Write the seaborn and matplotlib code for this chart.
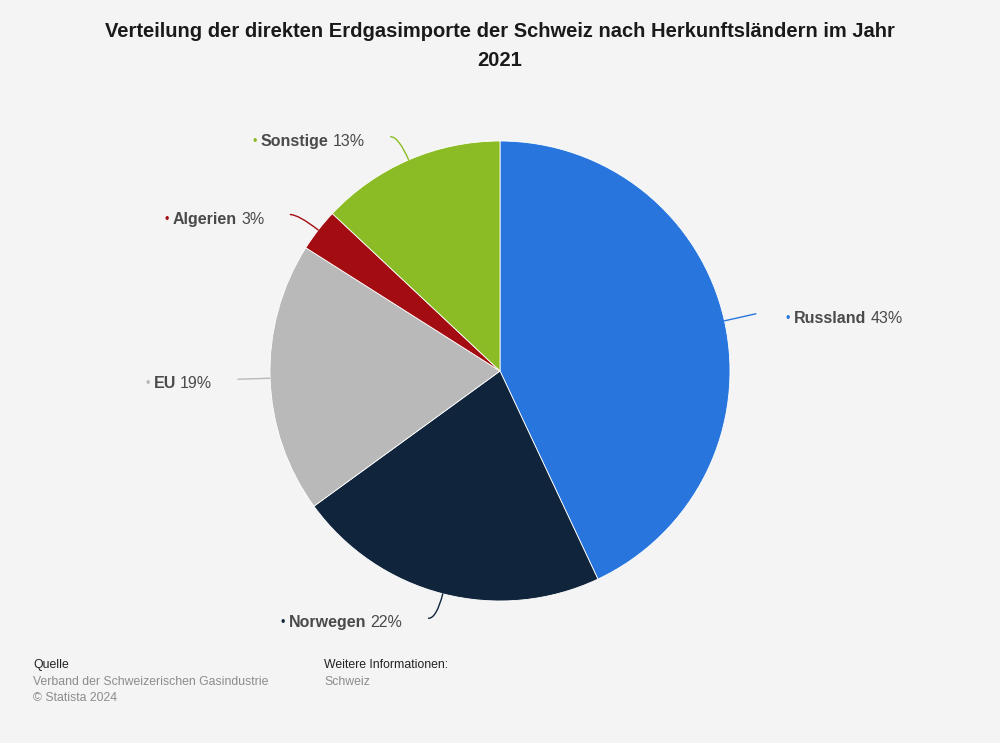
import numpy as np
import matplotlib
matplotlib.use("Agg")
import matplotlib.pyplot as plt
import seaborn as sns
from matplotlib.transforms import IdentityTransform

# data
countries = ["Russland", "Norwegen", "EU", "Algerien", "Sonstige"]
shares = [43, 22, 19, 3, 13]
colors = ["#2876dd", "#10253c", "#b9b9b9", "#a30c10", "#8bbc26"]

TITLE = "Verteilung der direkten Erdgasimporte der Schweiz nach Herkunftsländern im Jahr\n2021"
BG = "#f4f4f4"
TXT = "#4a4a4a"

sns.set_theme(style="white")
plt.rcParams["font.family"] = ["Liberation Sans", "DejaVu Sans"]

fig = plt.figure(figsize=(10, 7.43), dpi=100, facecolor=BG)
W, H = 1000, 743
cx, cy, r = 500, 371, 230
ax = fig.add_axes([(cx - r) / W, 1 - (cy + r) / H, 2 * r / W, 2 * r / H])
ax.set_facecolor(BG)

wedges, _ = ax.pie(shares, colors=colors, startangle=90, counterclock=False,
                   wedgeprops=dict(edgecolor="white", linewidth=0.6))
ax.set_xlim(-1, 1)
ax.set_ylim(-1, 1)
ax.set_aspect("equal")
ax.axis("off")

fig.canvas.draw()
renderer = fig.canvas.get_renderer()
ident = IdentityTransform()


def put(x, y, s, ha, **kw):
    t = fig.text(x, y, s, ha=ha, va="baseline", transform=ident, **kw)
    return t.get_window_extent(renderer).width


for w, name, pct, col in zip(wedges, countries, shares, colors):
    mid_deg = (w.theta1 + w.theta2) / 2
    mid = np.deg2rad(mid_deg)
    x0, y0 = np.cos(mid), np.sin(mid)
    right = x0 > 0
    sign = 1 if right else -1
    if abs(y0) < 0.3:
        end = ax.transData.transform((1.14 * x0, 1.14 * y0))
        cs = "arc3,rad=0"
    else:
        end = ax.transData.transform((1.11 * x0, 1.11 * y0)) + np.array([8 * sign, 0])
        cs = f"angle3,angleA=0,angleB={mid_deg:.2f}"
    x1, y1 = ax.transData.inverted().transform(end)
    ax.annotate("", xy=(x0, y0), xytext=(x1, y1),
                arrowprops=dict(arrowstyle="-", color=col, lw=1.0,
                                shrinkA=0, shrinkB=0, connectionstyle=cs))
    px, py = end
    py -= 9  # baseline a bit below connector end
    name_kw = dict(color=TXT, fontsize=11.5, fontweight="bold")
    pct_kw = dict(color=TXT, fontsize=11.5)
    dot_kw = dict(color=col, fontsize=9)
    if right:
        x = px + 30
        x += put(x, py + 1, "•", "left", **dot_kw) + 4
        x += put(x, py, name, "left", **name_kw) + 4
        put(x, py, f"{pct}%", "left", **pct_kw)
    else:
        x = px - 26
        x -= put(x, py, f"{pct}%", "right", **pct_kw) + 4
        x -= put(x, py, name, "right", **name_kw) + 4
        put(x, py + 1, "•", "right", **dot_kw)

fig.text(0.5, 1 - 22 / H, TITLE, ha="center", va="top", fontsize=14.5,
         fontweight="bold", color="#1a1a1a", linespacing=1.65)

# footer
fig.text(33 / W, 1 - 665 / H, "Quelle", fontsize=8.8, color="#222222", va="center")
fig.text(33 / W, 1 - 682 / H, "Verband der Schweizerischen Gasindustrie",
         fontsize=8.8, color="#8c8c8c", va="center")
fig.text(33 / W, 1 - 698 / H, "© Statista 2024", fontsize=8.8, color="#8c8c8c", va="center")
fig.text(324 / W, 1 - 665 / H, "Weitere Informationen:", fontsize=8.8, color="#222222", va="center")
fig.text(324 / W, 1 - 682 / H, "Schweiz", fontsize=8.8, color="#8c8c8c", va="center")

fig.savefig("out.png", dpi=100, facecolor=BG)
